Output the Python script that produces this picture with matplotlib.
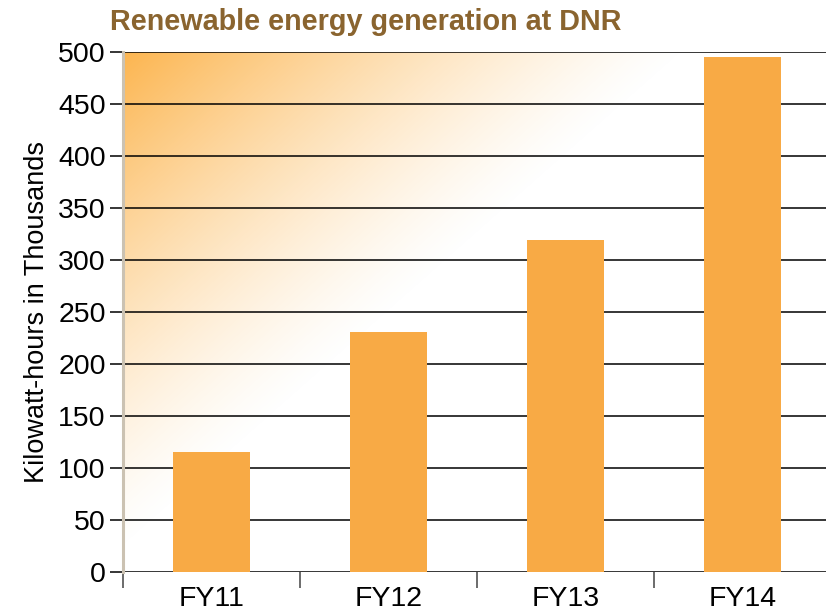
import numpy as np
import matplotlib.pyplot as plt
from matplotlib.ticker import FixedLocator

plt.rcParams["font.family"] = ["Liberation Sans", "DejaVu Sans"]

years = ["FY11", "FY12", "FY13", "FY14"]
kwh_thousands = [115, 231, 319, 495]
y_ticks = list(range(0, 501, 50))

BAR_COLOR = "#f8aa45"
GLOW_COLOR = (0.99, 0.71, 0.31)
TITLE_COLOR = "#8a642f"

fig = plt.figure(figsize=(8.26, 6.11), dpi=100)
ax = fig.add_axes([123 / 826, 39 / 611, 708 / 826, 520 / 611])

n = len(years)

# diagonal orange glow from the top-left corner fading to white
w, h = 400, 300
xx, yy = np.meshgrid(np.linspace(0, 708, w), np.linspace(0, 520, h))
fade = 1 - (xx / 565 + yy / 500)
alpha = np.clip(fade, 0, 1) ** 1.3
img = np.zeros((h, w, 4))
img[..., :3] = GLOW_COLOR
img[..., 3] = alpha
ax.imshow(img, extent=(-0.5, n - 0.5, 0, 500), origin="upper",
          aspect="auto", zorder=0, interpolation="bilinear")
ax.set_xlim(-0.5, n - 0.5)
ax.set_ylim(0, 500)

ax.grid(axis="y", color="black", linewidth=1.1, zorder=1)
ax.bar(range(n), kwh_thousands, width=0.43, color=BAR_COLOR, zorder=2)

ax.set_yticks(y_ticks)
ax.tick_params(axis="y", length=9.5, width=1.1, color="black",
               labelsize=20.5, pad=3)

ax.xaxis.set_major_locator(FixedLocator([i - 0.5 for i in range(n)]))
ax.xaxis.set_minor_locator(FixedLocator(list(range(n))))
ax.set_xticklabels([], minor=False)
ax.set_xticklabels(years, minor=True)
ax.tick_params(axis="x", which="major", length=11.5, width=1.1,
               color="#444444")
ax.tick_params(axis="x", which="minor", length=0, labelsize=20.5, pad=10)

for side in ("top", "right", "bottom"):
    ax.spines[side].set_visible(False)
ax.spines["left"].set_color("#cbc2b2")
ax.spines["left"].set_linewidth(2.2)

ax.set_ylabel("Kilowatt-hours in Thousands", fontsize=19.5, labelpad=6)
fig.text(110 / 826, 1 - 22 / 611, "Renewable energy generation at DNR",
         fontsize=20.7, fontweight="bold", color=TITLE_COLOR,
         ha="left", va="center")

fig.savefig("out.png", dpi=100)
